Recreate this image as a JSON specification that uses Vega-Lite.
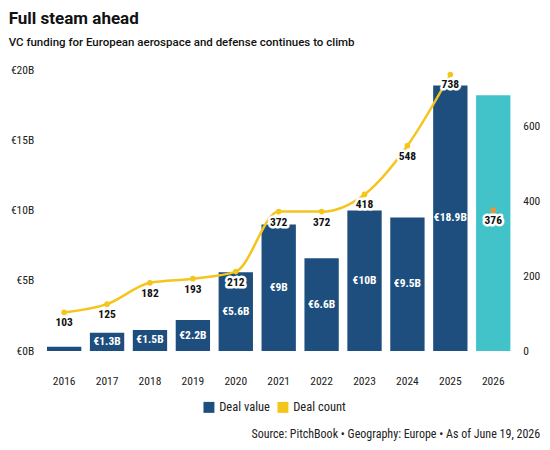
{
  "$schema": "https://vega.github.io/schema/vega-lite/v6.json",
  "width": 472,
  "height": 281,
  "autosize": {"type": "none"},
  "padding": {"left": 42.7, "top": 70, "right": 35.3, "bottom": 99},
  "background": "white",
  "title": {
    "text": "Full steam ahead",
    "subtitle": "VC funding for European aerospace and defense continues to climb",
    "anchor": "start",
    "frame": "group",
    "dx": -34,
    "offset": 15,
    "font": "Roboto",
    "fontSize": 17,
    "fontWeight": "bold",
    "color": "#111111",
    "subtitleFont": "Roboto",
    "subtitleFontSize": 11.5,
    "subtitleFontWeight": 500,
    "subtitleColor": "#111111",
    "subtitlePadding": 9
  },
  "config": {
    "view": {"stroke": null},
    "legend": {"symbolType": "square"},
    "axis": {
      "grid": false,
      "domain": false,
      "ticks": false,
      "labelFont": "Liberation Sans Narrow, Roboto Condensed, Roboto",
      "labelFontSize": 11.5,
      "labelColor": "#222222"
    }
  },
  "data": {
    "values": [
      {"year": "2016", "value": 0.3, "count": 103},
      {"year": "2017", "value": 1.3, "count": 125},
      {"year": "2018", "value": 1.5, "count": 182},
      {"year": "2019", "value": 2.2, "count": 193},
      {"year": "2020", "value": 5.6, "count": 212},
      {"year": "2021", "value": 9, "count": 372},
      {"year": "2022", "value": 6.6, "count": 372},
      {"year": "2023", "value": 10, "count": 418},
      {"year": "2024", "value": 9.5, "count": 548},
      {"year": "2025", "value": 18.9, "count": 738},
      {"year": "2026", "value": 18.2, "count": 376}
    ]
  },
  "transform": [
    {"calculate": "'Deal value'", "as": "valueSeries"}
  ],
  "encoding": {
    "x": {
      "field": "year",
      "type": "ordinal",
      "scale": {"paddingInner": 0.2, "paddingOuter": 0.1},
      "axis": {
        "labelAngle": 0,
        "labelPadding": 24,
        "title": "Source: PitchBook • Geography: Europe • As of June 19, 2026",
        "titleX": 497,
        "titleY": 86,
        "titleAlign": "right",
        "titleAnchor": null,
        "titleBaseline": "alphabetic",
        "titleFont": "Liberation Sans Narrow, Roboto Condensed, Roboto",
        "titleFontSize": 12,
        "titleFontWeight": "normal",
        "titleColor": "#222222"
      }
    }
  },
  "layer": [
    {
      "encoding": {
        "y": {
          "field": "value",
          "type": "quantitative",
          "scale": {"domain": [0, 20]},
          "axis": {
            "orient": "left",
            "values": [0, 5, 10, 15, 20],
            "labelExpr": "'€' + datum.value + 'B'",
            "labelPadding": 9,
            "title": null
          }
        }
      },
      "layer": [
        {
          "mark": {"type": "bar"},
          "encoding": {
            "color": {
              "condition": {"test": "datum.year === '2026'", "value": "#41c3c9"},
              "field": "valueSeries",
              "type": "nominal",
              "scale": {"domain": ["Deal value", "Deal count"], "range": ["#1d4e7e", "#f4c51c"]},
              "legend": {
                "title": null,
                "orient": "none",
                "direction": "horizontal",
                "legendX": 160,
                "legendY": 331,
                "symbolType": "square",
                "symbolSize": 120,
                "symbolStrokeWidth": 0,
                "labelFont": "Liberation Sans Narrow, Roboto Condensed, Roboto",
                "labelFontSize": 12.5,
                "labelColor": "#222222",
                "labelOffset": 4,
                "columnPadding": 6
              }
            }
          }
        },
        {
          "transform": [
            {"filter": "datum.year !== '2016' && datum.year !== '2026'"},
            {"calculate": "datum.value / 2", "as": "mid"},
            {"calculate": "'€' + datum.value + 'B'", "as": "valueLabel"}
          ],
          "mark": {
            "type": "text",
            "color": "white",
            "font": "Liberation Sans Narrow, Roboto Condensed, Roboto",
            "fontWeight": "bold",
            "fontSize": 11.5,
            "baseline": "middle"
          },
          "encoding": {
            "y": {"field": "mid", "type": "quantitative"},
            "text": {"field": "valueLabel"}
          }
        }
      ]
    },
    {
      "encoding": {
        "y": {
          "field": "count",
          "type": "quantitative",
          "scale": {"domain": [0, 750]},
          "axis": {
            "orient": "right",
            "values": [0, 200, 400, 600],
            "labelPadding": 8,
            "title": null
          }
        }
      },
      "layer": [
        {
          "transform": [{"filter": "datum.year !== '2026'"}],
          "mark": {"type": "line", "interpolate": "monotone", "strokeWidth": 2.5, "color": "#f4c51c"},
          "encoding": {}
        },
        {
          "mark": {"type": "point", "filled": true, "size": 32, "opacity": 1},
          "encoding": {
            "color": {
              "condition": {"test": "datum.year === '2026'", "value": "#e8953c"},
              "value": "#f4c51c"
            }
          }
        },
        {
          "mark": {
            "type": "text",
            "dy": 11,
            "baseline": "middle",
            "font": "Liberation Sans Narrow, Roboto Condensed, Roboto",
            "fontWeight": "bold",
            "fontSize": 11.5,
            "stroke": "white",
            "strokeWidth": 5,
            "strokeJoin": "round",
            "fill": "white"
          },
          "encoding": {"text": {"field": "count", "type": "quantitative"}}
        },
        {
          "mark": {
            "type": "text",
            "dy": 11,
            "baseline": "middle",
            "font": "Liberation Sans Narrow, Roboto Condensed, Roboto",
            "fontWeight": "bold",
            "fontSize": 11.5,
            "color": "#111111"
          },
          "encoding": {"text": {"field": "count", "type": "quantitative"}}
        }
      ]
    }
  ],
  "resolve": {"scale": {"y": "independent"}}
}
